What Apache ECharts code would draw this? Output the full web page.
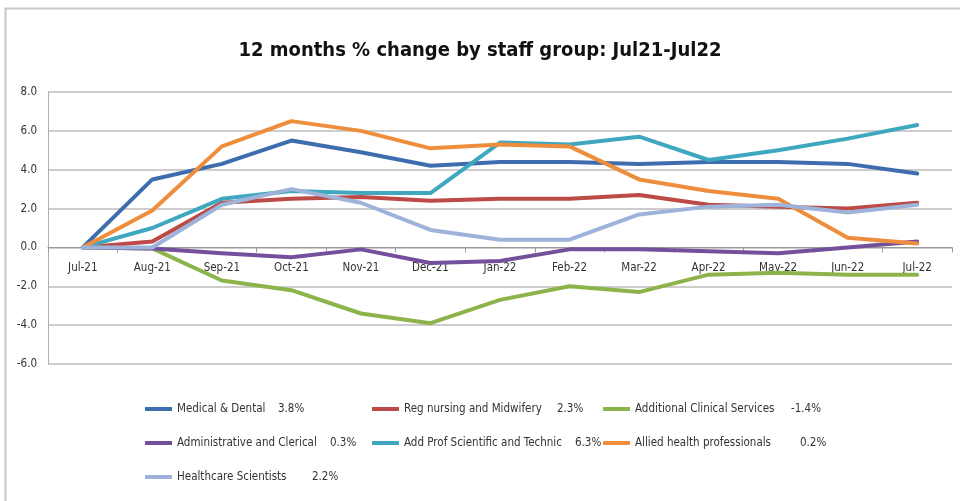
<!DOCTYPE html>
<html>
<head>
<meta charset="utf-8">
<script src="https://cdn.jsdelivr.net/npm/echarts@6/dist/echarts.min.js"></script>
<style>
  html, body { margin: 0; padding: 0; background: #fff; }
  #chart { width: 960px; height: 501px; }
</style>
</head>
<body>
<div id="chart"></div>
<script>
// Months on the category axis
const months = ['Jul-21','Aug-21','Sep-21','Oct-21','Nov-21','Dec-21','Jan-22','Feb-22','Mar-22','Apr-22','May-22','Jun-22','Jul-22'];

// 12-month % change for each staff group
const medicalDental      = [0, 3.5, 4.3, 5.5, 4.9, 4.2, 4.4, 4.4, 4.3, 4.4, 4.4, 4.3, 3.8];
const regNursing         = [0, 0.3, 2.3, 2.5, 2.6, 2.4, 2.5, 2.5, 2.7, 2.2, 2.1, 2.0, 2.3];
const additionalClinical = [0, -0.05, -1.7, -2.2, -3.4, -3.9, -2.7, -2.0, -2.3, -1.4, -1.3, -1.4, -1.4];
const adminClerical      = [0, -0.05, -0.3, -0.5, -0.1, -0.8, -0.7, -0.1, -0.1, -0.2, -0.3, 0.0, 0.3];
const addProfScientific  = [0, 1.0, 2.5, 2.9, 2.8, 2.8, 5.4, 5.3, 5.7, 4.5, 5.0, 5.6, 6.3];
const alliedHealth       = [0, 1.9, 5.2, 6.5, 6.0, 5.1, 5.3, 5.2, 3.5, 2.9, 2.5, 0.5, 0.2];
const healthcareSci      = [0, 0.0, 2.2, 3.0, 2.3, 0.9, 0.4, 0.4, 1.7, 2.1, 2.2, 1.8, 2.2];

// Y axis ticks
const yTicks = [-6, -4, -2, 0, 2, 4, 6, 8];

// nameWidth: room given to the group name before its latest % value
const groups = [
  { name: 'Medical & Dental',                data: medicalDental,      color: '#3E6DAF', nameWidth: 101 },
  { name: 'Reg nursing and Midwifery',       data: regNursing,         color: '#BC4A47', nameWidth: 153 },
  { name: 'Additional Clinical Services',    data: additionalClinical, color: '#8DB44B', nameWidth: 156 },
  { name: 'Administrative and Clerical',     data: adminClerical,      color: '#74509C', nameWidth: 153 },
  { name: 'Add Prof Scientific and Technic', data: addProfScientific,  color: '#3FA8BF', nameWidth: 171 },
  { name: 'Allied health professionals',     data: alliedHealth,       color: '#EE8E3C', nameWidth: 165 },
  { name: 'Healthcare Scientists',           data: healthcareSci,      color: '#9DB3D9', nameWidth: 135 }
];

const FONT = '"Liberation Sans Narrow", "DejaVu Sans Condensed", "Liberation Sans", sans-serif';
const byName = {};
groups.forEach((g, i) => { g.key = 'n' + i; byName[g.name] = g; });

const LEGEND_SIZE = 11.5;
const rich = { v: { fontFamily: FONT, fontSize: LEGEND_SIZE, color: '#333' } };
groups.forEach(g => {
  rich[g.key] = { fontFamily: FONT, fontSize: LEGEND_SIZE, color: '#333', width: g.nameWidth };
});

function legendCol(names, left) {
  return {
    data: names,
    orient: 'vertical',
    left: left,
    top: 403,
    padding: 0,
    itemWidth: 27,
    itemHeight: 4,
    itemGap: 22,
    icon: 'rect',
    formatter: function (name) {
      const g = byName[name];
      const last = g.data[g.data.length - 1];
      return '{' + g.key + '|' + name + '}{v|' + last.toFixed(1) + '%}';
    },
    textStyle: { fontFamily: FONT, fontSize: LEGEND_SIZE, color: '#333', rich: rich }
  };
}

const GRID = { left: 48, right: 8, top: 92, bottom: 137 };
const plotHeight = 501 - GRID.top - GRID.bottom;
const yMin = yTicks[0], yMax = yTicks[yTicks.length - 1];
// Category axis sits on the zero line, labels included
const zeroOffset = -plotHeight * (0 - yMin) / (yMax - yMin);

const chart = echarts.init(document.getElementById('chart'));

chart.setOption({
  animation: false,
  backgroundColor: '#fff',
  title: {
    text: '12 months % change by staff group: Jul21-Jul22',
    left: 'center',
    top: 36,
    textStyle: { fontFamily: FONT, fontSize: 20, fontWeight: 'bold', color: '#111' }
  },
  graphic: [{
    type: 'rect',
    shape: { x: 5.5, y: 8.5, width: 990, height: 600 },
    style: { fill: 'none', stroke: '#c8c8c8', lineWidth: 2 },
    silent: true
  }],
  legend: [
    legendCol(['Medical & Dental', 'Administrative and Clerical', 'Healthcare Scientists'], 145),
    legendCol(['Reg nursing and Midwifery', 'Add Prof Scientific and Technic'], 372),
    legendCol(['Additional Clinical Services', 'Allied health professionals'], 603)
  ],
  grid: GRID,
  xAxis: {
    type: 'category',
    data: months,
    boundaryGap: true,
    offset: zeroOffset,
    axisLine: { onZero: false, lineStyle: { color: '#9a9a9a', width: 1 } },
    axisTick: { show: true, length: 5, lineStyle: { color: '#9a9a9a' } },
    axisLabel: { fontFamily: FONT, fontSize: 11.5, color: '#333', margin: 15 }
  },
  yAxis: {
    type: 'value',
    min: yMin,
    max: yMax,
    interval: 2,
    axisLine: { show: true, lineStyle: { color: '#b0b0b0' } },
    axisTick: { show: false },
    splitLine: { lineStyle: { color: '#bdbdbd', width: 1.5 } },
    axisLabel: {
      fontFamily: FONT, fontSize: 11.5, color: '#333', margin: 11,
      formatter: v => v.toFixed(1)
    }
  },
  series: groups.map(g => ({
    name: g.name,
    type: 'line',
    data: g.data,
    symbol: 'none',
    color: g.color,
    lineStyle: { width: 4, color: g.color, cap: 'round', join: 'round' }
  }))
});
</script>
</body>
</html>
